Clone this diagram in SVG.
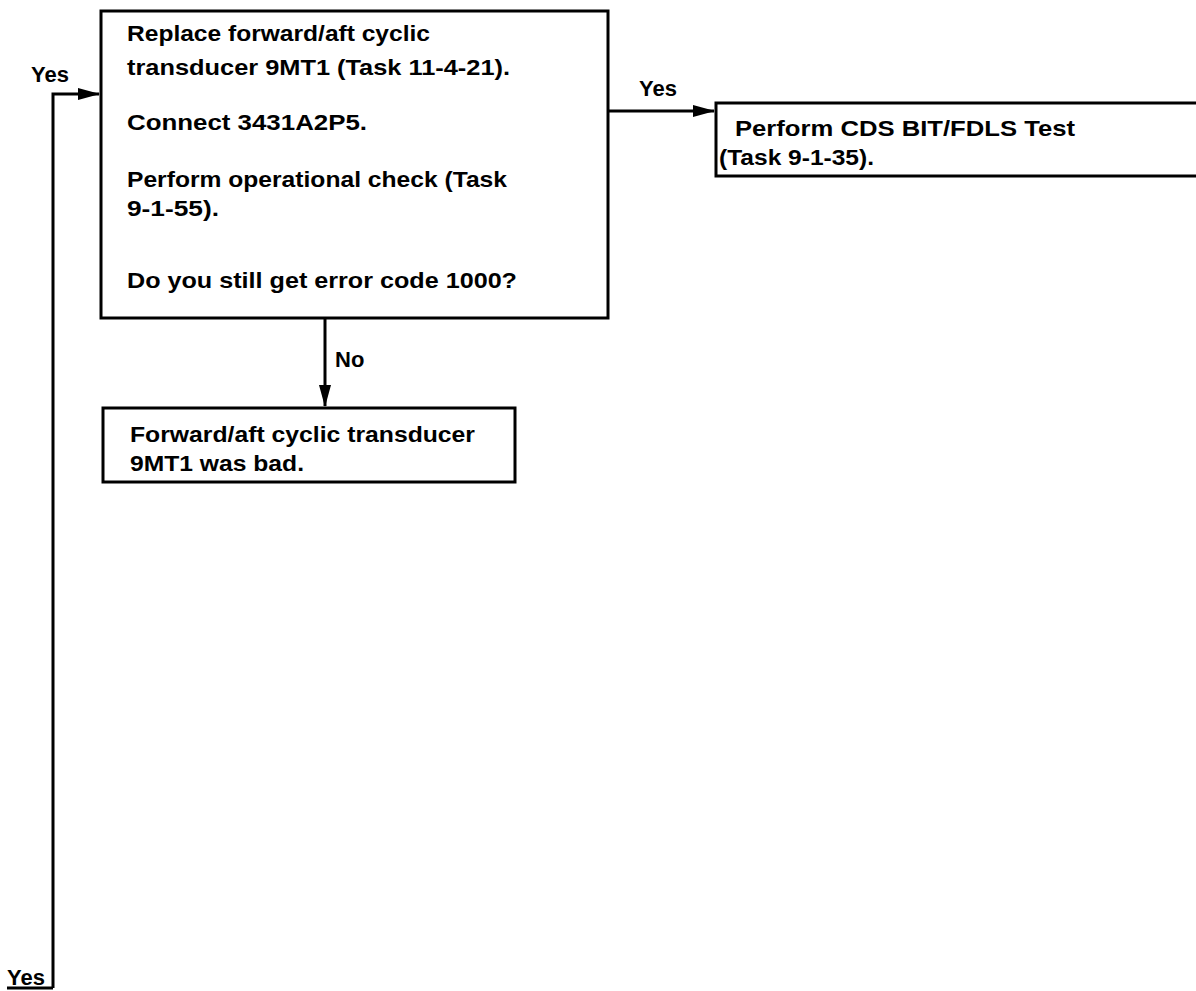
<svg xmlns="http://www.w3.org/2000/svg" width="1196" height="991" viewBox="0 0 1196 991">
<defs>
<style>
.box{fill:#fff;stroke:#000;stroke-width:3}
.ln{fill:none;stroke:#000;stroke-width:3}
.t{font-family:"Liberation Sans",Arial,sans-serif;font-size:22px;font-weight:bold;fill:#000}
</style>
<marker id="ah" markerWidth="22" markerHeight="12" refX="21" refY="6" orient="auto" markerUnits="userSpaceOnUse">
<path d="M0,0 L22,6 L0,12 Z" fill="#000"/>
</marker>
</defs>
<rect width="1196" height="991" fill="#fff"/>
<g id="connectors">
<path class="ln" d="M53,988 L53,94 L99,94" marker-end="url(#ah)"/>
<path class="ln" d="M7,988 L53,988"/>
<path class="ln" d="M608,111 L714,111" marker-end="url(#ah)"/>
<path class="ln" d="M325,318 L325,406" marker-end="url(#ah)"/>
<text class="t" x="31" y="82">Yes</text>
<text class="t" x="7" y="985">Yes</text>
<text class="t" x="639" y="96">Yes</text>
<text class="t" x="335" y="367">No</text>
</g>
<g id="n1">
<rect class="box" x="101" y="11" width="507" height="307"/>
<text class="t" x="127" y="41" textLength="303" lengthAdjust="spacingAndGlyphs">Replace forward/aft cyclic</text>
<text class="t" x="127" y="75" textLength="383" lengthAdjust="spacingAndGlyphs">transducer 9MT1 (Task 11-4-21).</text>
<text class="t" x="127" y="130" textLength="240" lengthAdjust="spacingAndGlyphs">Connect 3431A2P5.</text>
<text class="t" x="127" y="187" textLength="380" lengthAdjust="spacingAndGlyphs">Perform operational check (Task</text>
<text class="t" x="127" y="216" textLength="92" lengthAdjust="spacingAndGlyphs">9-1-55).</text>
<text class="t" x="127" y="288" textLength="390" lengthAdjust="spacingAndGlyphs">Do you still get error code 1000?</text>
</g>
<g id="n2">
<rect class="box" x="716" y="103" width="490" height="73"/>
<text class="t" x="735" y="136" textLength="340" lengthAdjust="spacingAndGlyphs">Perform CDS BIT/FDLS Test</text>
<text class="t" x="719" y="165" textLength="155" lengthAdjust="spacingAndGlyphs">(Task 9-1-35).</text>
</g>
<g id="n3">
<rect class="box" x="103" y="408" width="412" height="74"/>
<text class="t" x="130" y="442" textLength="345" lengthAdjust="spacingAndGlyphs">Forward/aft cyclic transducer</text>
<text class="t" x="130" y="471" textLength="174" lengthAdjust="spacingAndGlyphs">9MT1 was bad.</text>
</g>
</svg>
